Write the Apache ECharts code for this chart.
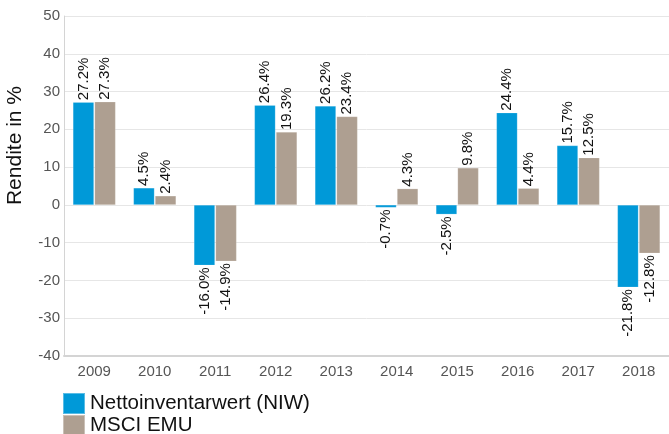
<!DOCTYPE html>
<html>
<head>
<meta charset="utf-8">
<script src="https://cdn.jsdelivr.net/npm/echarts@6/dist/echarts.min.js"></script>
<style>
  html, body { margin: 0; padding: 0; background: #fff; }
  #chart { width: 669px; height: 434px; }
</style>
</head>
<body>
<div id="chart"></div>
<script>
var years = ['2009', '2010', '2011', '2012', '2013', '2014', '2015', '2016', '2017', '2018'];
var niw = [27.2, 4.5, -16.0, 26.4, 26.2, -0.7, -2.5, 24.4, 15.7, -21.8];
var msci = [27.3, 2.4, -14.9, 19.3, 23.4, 4.3, 9.8, 4.4, 12.5, -12.8];
var seriesNames = ['Nettoinventarwert (NIW)', 'MSCI EMU'];

var FONT = '"Liberation Sans", Arial, sans-serif';

// rotated labels: above positive bars, below negative ones
function withLabels(vals) {
  return vals.map(function (v) {
    var neg = v < 0;
    return {
      value: v,
      label: {
        position: neg ? 'bottom' : 'top',
        align: neg ? 'right' : 'left',
        distance: 2
      }
    };
  });
}

function barSeries(name, vals, color) {
  return {
    name: name,
    type: 'bar',
    data: withLabels(vals),
    barWidth: 21,
    barGap: '3%',
    itemStyle: { color: color, borderColor: 'rgba(255,255,255,0.35)', borderWidth: 0.5 },
    label: {
      show: true,
      rotate: 90,
      verticalAlign: 'middle',
      color: '#111',
      fontSize: 15,
      fontFamily: FONT,
      formatter: function (p) { return p.value.toFixed(1) + '%'; }
    }
  };
}

function legendFor(name, top) {
  return {
    data: [name],
    left: 62,
    top: top,
    itemWidth: 22,
    itemHeight: 21,
    icon: 'rect',
    padding: 0,
    selectedMode: false,
    textStyle: { color: '#111', fontSize: 20.5, fontFamily: FONT }
  };
}

var c = echarts.init(document.getElementById('chart'), null, { renderer: 'canvas' });
c.setOption({
  animation: false,
  grid: { left: 64, right: -5, top: 16, bottom: 78, containLabel: false },
  legend: [legendFor(seriesNames[0], 392), legendFor(seriesNames[1], 414)],
  graphic: [{
    type: 'text',
    left: 5,
    top: 86,
    rotation: Math.PI / 2,
    style: { text: 'Rendite in %', fill: '#111', font: '21px ' + FONT }
  }],
  xAxis: {
    type: 'category',
    data: years,
    axisTick: { show: false },
    axisLine: { onZero: false, lineStyle: { color: '#d4d4d4', width: 2 } },
    axisLabel: { color: '#555', fontSize: 15, fontFamily: FONT, margin: 8 }
  },
  yAxis: {
    type: 'value',
    min: -40,
    max: 50,
    interval: 10,
    axisLine: { show: true, lineStyle: { color: '#d4d4d4', width: 1 } },
    axisTick: { show: false },
    splitLine: { lineStyle: { color: '#e6e6e6' } },
    axisLabel: { color: '#555', fontSize: 15, fontFamily: FONT, margin: 4 }
  },
  series: [
    barSeries(seriesNames[0], niw, '#0099d8'),
    barSeries(seriesNames[1], msci, '#ae9f91')
  ]
});
</script>
</body>
</html>
